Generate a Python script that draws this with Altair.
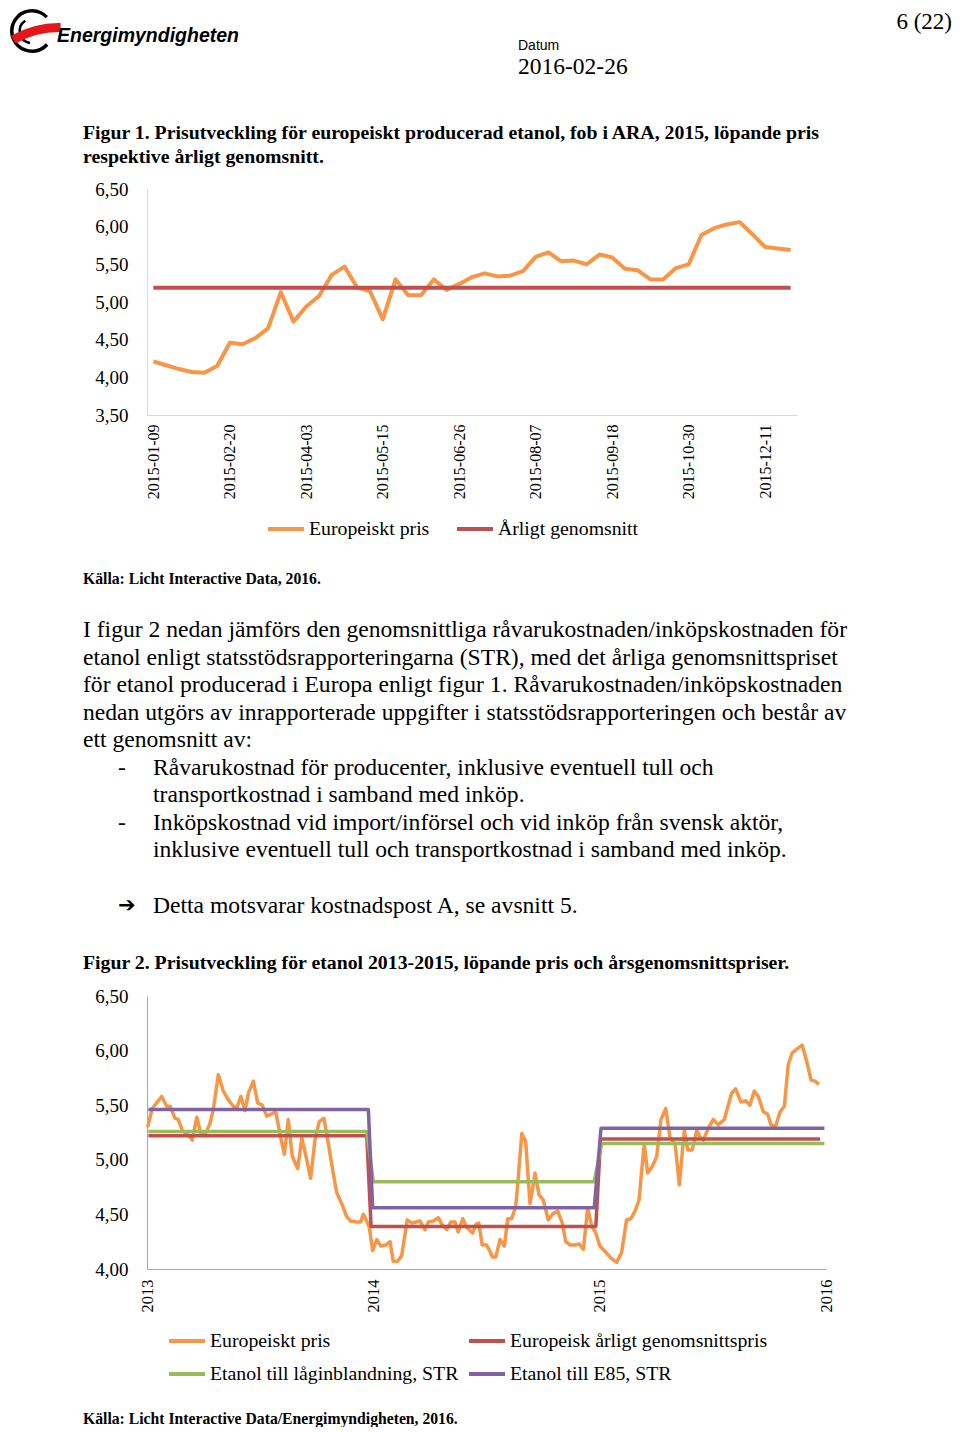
import altair as alt
import pandas as pd

SERIF = "Liberation Serif"
SANS = "Liberation Sans"
ORANGE, RED, GREEN, PURPLE = "#F79646", "#C0504D", "#9BBB59", "#8064A2"

# ---------------- Figure 1 data: weekly 2015 ----------------
WEEKS_2015 = [d.strftime("%Y-%m-%d") for d in pd.date_range("2015-01-09", periods=51, freq="7D")]
PRICE_2015 = [4.21, 4.16, 4.11, 4.07, 4.06, 4.15, 4.46, 4.44, 4.52, 4.65,
              5.13, 4.74, 4.94, 5.08, 5.36, 5.47, 5.19, 5.14, 4.77, 5.30,
              5.09, 5.09, 5.30, 5.16, 5.24, 5.33, 5.38, 5.34, 5.35, 5.41,
              5.60, 5.66, 5.54, 5.55, 5.50, 5.63, 5.59, 5.44, 5.42, 5.30,
              5.30, 5.45, 5.50, 5.89, 5.98, 6.03, 6.06, 5.90, 5.73, 5.71, 5.69]
AVG_2015 = 5.19
F1_SERIES = ["Europeiskt pris", "Årligt genomsnitt"]
F1_TICKS = WEEKS_2015[::6]
Y1_TICKS = [3.5, 4.0, 4.5, 5.0, 5.5, 6.0, 6.5]

# ---------------- Figure 2 data: 2013-2015 (decimal years) ----------------
PRICE_T = [2013.003, 2013.023, 2013.065, 2013.087, 2013.102, 2013.124, 2013.138, 2013.156, 2013.180, 2013.200,
           2013.220, 2013.239, 2013.256, 2013.278, 2013.293, 2013.315, 2013.337, 2013.359, 2013.381, 2013.396,
           2013.415, 2013.433, 2013.448, 2013.470, 2013.489, 2013.509, 2013.529, 2013.551, 2013.569, 2013.588,
           2013.607, 2013.624, 2013.642, 2013.666, 2013.684, 2013.706, 2013.723, 2013.742, 2013.761, 2013.782,
           2013.801, 2013.820, 2013.838, 2013.860, 2013.882, 2013.900, 2013.927, 2013.944, 2013.956, 2013.973,
           2013.982, 2013.997, 2014.015, 2014.033, 2014.056, 2014.074, 2014.088, 2014.106, 2014.125, 2014.150,
           2014.170, 2014.189, 2014.206, 2014.228, 2014.243, 2014.265, 2014.287, 2014.302, 2014.324, 2014.342,
           2014.361, 2014.375, 2014.395, 2014.413, 2014.439, 2014.454, 2014.466, 2014.481, 2014.500, 2014.511,
           2014.526, 2014.541, 2014.560, 2014.579, 2014.594, 2014.611, 2014.629, 2014.641, 2014.656, 2014.673,
           2014.692, 2014.702, 2014.714, 2014.732, 2014.751, 2014.773, 2014.795, 2014.815, 2014.835, 2014.850,
           2014.869, 2014.891, 2014.909, 2014.928, 2014.947, 2014.965, 2014.983, 2015.001, 2015.024, 2015.050,
           2015.075, 2015.097, 2015.119, 2015.138, 2015.156, 2015.174, 2015.186, 2015.197, 2015.212, 2015.233,
           2015.252, 2015.271, 2015.292, 2015.311, 2015.333, 2015.352, 2015.374, 2015.389, 2015.409, 2015.429,
           2015.443, 2015.458, 2015.480, 2015.502, 2015.524, 2015.551, 2015.568, 2015.583, 2015.601, 2015.624,
           2015.645, 2015.664, 2015.683, 2015.701, 2015.723, 2015.742, 2015.757, 2015.778, 2015.797, 2015.816,
           2015.833, 2015.851, 2015.875, 2015.895, 2015.915, 2015.934, 2015.951, 2015.969]
PRICE_V = [5.30, 5.47, 5.58, 5.49, 5.49, 5.38, 5.37, 5.27, 5.23, 5.18,
           5.39, 5.23, 5.23, 5.33, 5.46, 5.78, 5.63, 5.55, 5.49, 5.47,
           5.58, 5.45, 5.61, 5.72, 5.52, 5.50, 5.40, 5.42, 5.44, 5.23,
           5.05, 5.37, 5.03, 4.92, 5.20, 5.00, 4.83, 5.18, 5.35, 5.38,
           5.15, 4.91, 4.70, 4.60, 4.48, 4.44, 4.43, 4.43, 4.50, 4.43,
           4.38, 4.17, 4.27, 4.21, 4.22, 4.25, 4.07, 4.07, 4.12, 4.45,
           4.42, 4.43, 4.44, 4.36, 4.43, 4.44, 4.47, 4.41, 4.36, 4.43,
           4.43, 4.34, 4.46, 4.38, 4.33, 4.41, 4.42, 4.22, 4.22, 4.18,
           4.11, 4.11, 4.27, 4.21, 4.46, 4.46, 4.57, 4.85, 5.24, 5.17,
           4.60, 4.71, 4.88, 4.68, 4.63, 4.45, 4.51, 4.53, 4.42, 4.25,
           4.22, 4.22, 4.23, 4.18, 4.56, 4.39, 4.33, 4.21, 4.16, 4.10,
           4.06, 4.15, 4.45, 4.46, 4.53, 4.63, 4.91, 5.14, 4.88, 4.94,
           5.03, 5.37, 5.47, 5.20, 5.15, 4.77, 5.27, 5.09, 5.09, 5.27,
           5.21, 5.18, 5.29, 5.37, 5.32, 5.37, 5.50, 5.61, 5.65, 5.53,
           5.54, 5.50, 5.63, 5.58, 5.44, 5.42, 5.32, 5.31, 5.44, 5.49,
           5.87, 5.98, 6.02, 6.05, 5.90, 5.73, 5.72, 5.69]
AVG_T = [2013.006, 2013.971, 2013.990, 2014.983, 2015.004, 2015.974]
AVG_V = [5.22, 5.22, 4.39, 4.39, 5.19, 5.19]
LOW_T = [2013.006, 2013.971, 2014.000, 2014.976, 2015.009, 2015.993]
LOW_V = [5.26, 5.26, 4.80, 4.80, 5.15, 5.15]
E85_T = [2013.006, 2013.978, 2013.997, 2014.976, 2015.006, 2015.993]
E85_V = [5.46, 5.46, 4.56, 4.56, 5.29, 5.29]
F2_SERIES = ["Europeiskt pris", "Europeisk årligt genomsnittspris",
             "Etanol till låginblandning, STR", "Etanol till E85, STR"]
X2_TICKS = [2013, 2014, 2015, 2016]
Y2_TICKS = [4.0, 4.5, 5.0, 5.5, 6.0, 6.5]

# ---------------- Page text ----------------
PAGE_NO = "6 (22)"
LOGO_NAME = "Energimyndigheten"
DATUM_LABEL = "Datum"
DATUM = "2016-02-26"
CAPTION1 = ["Figur 1. Prisutveckling för europeiskt producerad etanol, fob i ARA, 2015, löpande pris",
            "respektive årligt genomsnitt."]
SOURCE1 = "Källa: Licht Interactive Data, 2016."
PARA = ["I figur 2 nedan jämförs den genomsnittliga råvarukostnaden/inköpskostnaden för",
        "etanol enligt statsstödsrapporteringarna (STR), med det årliga genomsnittspriset",
        "för etanol producerad i Europa enligt figur 1. Råvarukostnaden/inköpskostnaden",
        "nedan utgörs av inrapporterade uppgifter i statsstödsrapporteringen och består av",
        "ett genomsnitt av:"]
BULLETS = ["Råvarukostnad för producenter, inklusive eventuell tull och",
           "transportkostnad i samband med inköp.",
           "Inköpskostnad vid import/införsel och vid inköp från svensk aktör,",
           "inklusive eventuell tull och transportkostnad i samband med inköp."]
ARROW_TEXT = "Detta motsvarar kostnadspost A, se avsnitt 5."
CAPTION2 = "Figur 2. Prisutveckling för etanol 2013-2015, löpande pris och årsgenomsnittspriser."
SOURCE2 = "Källa: Licht Interactive Data/Energimyndigheten, 2016."

ONE = alt.Data(values=[{"k": 0}])
COMMA = "replace(format(datum.value, '.2f'), '.', ',')"


def label(s, x, y, size, font=SERIF, weight="normal", style="normal", align="left", baseline="middle"):
    return alt.Chart(ONE).mark_text(
        align=align, baseline=baseline, font=font, fontSize=size,
        fontWeight=weight, fontStyle=style, color="black"
    ).encode(x=alt.value(x), y=alt.value(y), text=alt.value(s))


def arc(cx, cy, r, r2, t1, t2, color):
    return alt.Chart(ONE).mark_arc(radius=r, radius2=r2, theta=t1, theta2=t2, color=color).encode(
        x=alt.value(cx), y=alt.value(cy))


def yaxis(values, dom_color):
    return alt.Axis(values=values, title=None, ticks=False, grid=False, domainColor=dom_color,
                    domainWidth=1, labelFont=SERIF, labelFontSize=19, labelColor="black",
                    labelPadding=19, labelExpr=COMMA)


# ---------------- Figure 1 ----------------
W1, H1 = 650, 226
n1 = len(WEEKS_2015)
df1 = pd.DataFrame({
    "week": WEEKS_2015 * 2,
    "price": PRICE_2015 + [AVG_2015] * n1,
    "series": [F1_SERIES[0]] * n1 + [F1_SERIES[1]] * n1,
})
leg1 = alt.Legend(orient="none", legendX=119, legendY=320, direction="horizontal",
                  symbolType="stroke", symbolSize=1296, symbolStrokeWidth=4,
                  labelFont=SERIF, labelFontSize=19.8, labelColor="black", labelOffset=3,
                  labelLimit=400, columnPadding=19, padding=0)
base1 = alt.Chart(df1).encode(
    x=alt.X("week:O", sort=WEEKS_2015, scale=alt.Scale(type="point", padding=0.5),
            axis=alt.Axis(values=F1_TICKS, title=None, ticks=False, grid=False,
                          domainColor="#D9D9D9", labelAngle=270, labelFont=SERIF,
                          labelFontSize=16, labelColor="black", labelPadding=9)),
    y=alt.Y("price:Q", scale=alt.Scale(domain=[3.5, 6.5], nice=False, zero=False),
            axis=yaxis(Y1_TICKS, "#D9D9D9")),
    color=alt.Color("series:N", scale=alt.Scale(domain=F1_SERIES, range=[ORANGE, RED]),
                    legend=leg1, title=None),
)
lines1 = [base1.transform_filter(alt.datum.series == s).mark_line(strokeWidth=4, strokeJoin="round")
          for s in F1_SERIES]

anchor = alt.Chart(ONE).mark_rect(opacity=0).encode(
    x=alt.value(-139), x2=alt.value(-138), y=alt.value(-181), y2=alt.value(-180))

header = [
    anchor,
    arc(-115, -158, 22, 18.5, 2.3, 7.1, "black"),
    arc(-115, -158, 13.5, 11, 3.3, 5.7, "black"),
    arc(-88, -70, 96, 87, 5.76, 6.30, "#E3161B"),
    label(LOGO_NAME, -90, -147, 19.5, font=SANS, weight="bold", style="italic", baseline="alphabetic"),
    label(PAGE_NO, 805, -178, 23, align="right", baseline="top"),
    label(DATUM_LABEL, 371, -143, 14, font=SANS),
    label(DATUM, 371, -122, 23.5),
    label(CAPTION1[0], -64, -56, 19.8, weight="bold"),
    label(CAPTION1[1], -64, -32, 19.8, weight="bold"),
    label(SOURCE1, -64, 390, 15.7, weight="bold"),
]
fig1 = alt.layer(*header, *lines1).properties(width=W1, height=H1)

# ---------------- Figure 2 ----------------
W2, H2 = 679, 273
frames = []
for name, xs, ys in zip(F2_SERIES, [PRICE_T, AVG_T, LOW_T, E85_T], [PRICE_V, AVG_V, LOW_V, E85_V]):
    frames.append(pd.DataFrame({"year": xs, "price": ys, "series": name}))
df2 = pd.concat(frames, ignore_index=True)
leg2 = alt.Legend(orient="none", legendX=20, legendY=325, direction="horizontal", columns=2,
                  symbolType="stroke", symbolSize=1296, symbolStrokeWidth=4,
                  labelFont=SERIF, labelFontSize=19.8, labelColor="black", labelOffset=3,
                  labelLimit=400, columnPadding=2, rowPadding=3, padding=0)
base2 = alt.Chart(df2).encode(
    x=alt.X("year:Q", scale=alt.Scale(domain=[2013, 2016], nice=False, zero=False),
            axis=alt.Axis(values=X2_TICKS, format="d", title=None, ticks=False, grid=False,
                          domainColor="#A6A6A6", labelAngle=270, labelFont=SERIF,
                          labelFontSize=16.5, labelColor="black", labelPadding=10,
                          labelFlush=False)),
    y=alt.Y("price:Q", scale=alt.Scale(domain=[4.0, 6.5], nice=False, zero=False),
            axis=yaxis(Y2_TICKS, "#A6A6A6")),
    color=alt.Color("series:N", scale=alt.Scale(domain=F2_SERIES, range=[ORANGE, RED, GREEN, PURPLE]),
                    legend=leg2, title=None),
    order=alt.Order("year:Q"),
)
lines2 = [base2.transform_filter(alt.datum.series == s).mark_line(strokeWidth=3.5, strokeJoin="round")
          for s in F2_SERIES]

PARA_SIZE = 23.6
texts2 = []
for i, s in enumerate(PARA):
    texts2.append(label(s, -64, -366 + 27.5 * i, PARA_SIZE))
for j, s in enumerate(BULLETS):
    y = -366 + 27.5 * (len(PARA) + j)
    texts2.append(label(s, 6, y, PARA_SIZE))
    if j % 2 == 0:
        texts2.append(label("-", -29, y, PARA_SIZE))
texts2.append(label("\u2794", -29, -90, 21, font="DejaVu Sans", weight="bold"))
texts2.append(label(ARROW_TEXT, 6, -90, PARA_SIZE))
texts2.append(label(CAPTION2, -64, -33, 19.8, weight="bold"))
texts2.append(label(SOURCE2, -64, 423, 15.7, weight="bold"))

fig2 = alt.layer(*texts2, *lines2).properties(width=W2, height=H2)

chart = alt.vconcat(fig1, fig2, spacing=581, bounds="flush").resolve_scale(
    color="independent"
).resolve_legend(color="independent").properties(
    padding=0, autosize=alt.AutoSizeParams(type="pad")
).configure_view(stroke=None)

chart.save("out.html", embed_options={"renderer": "svg", "actions": False})
